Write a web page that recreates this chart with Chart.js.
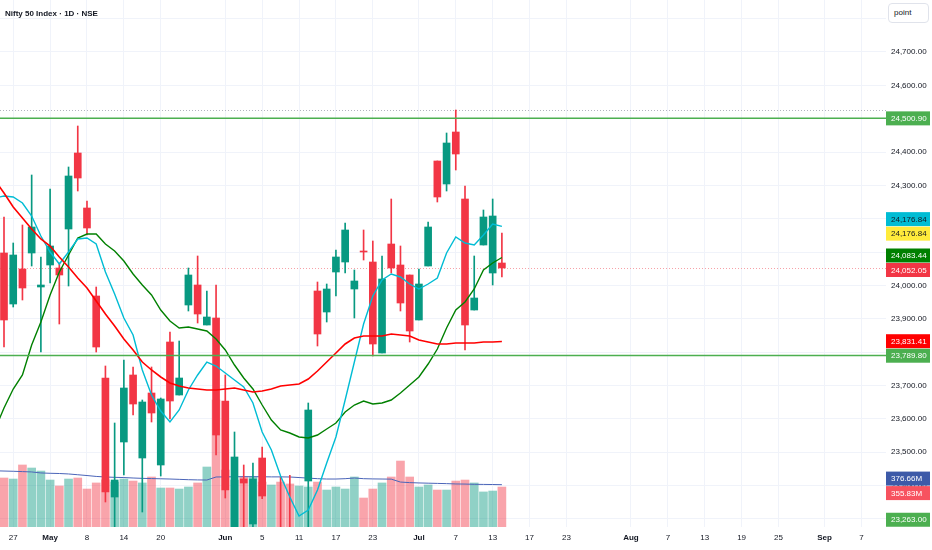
<!DOCTYPE html>
<html>
<head>
<meta charset="utf-8">
<script src="https://cdn.jsdelivr.net/npm/chart.js@4.4.1/dist/chart.umd.min.js"></script>
<style>
body{margin:0;background:#fff;}
#wrap{position:relative;width:932px;height:550px;overflow:hidden;}
#title{position:absolute;left:5px;top:9px;font:600 8px "Liberation Sans",Arial,sans-serif;color:#131722;}
#unit{position:absolute;left:888px;top:3px;width:34px;height:18px;border:1px solid #e0e3eb;border-radius:4px;
  font:8px "Liberation Sans",Arial,sans-serif;color:#131722;line-height:18px;padding-left:5px;background:#fff;}
</style>
</head>
<body>
<div id="wrap">
  <canvas id="chart" width="932" height="550"></canvas>
  <div id="title">Nifty 50 Index · 1D · NSE</div>
  <div id="unit">point</div>
</div>
<script>
// daily candles, bar index 0..54
const opens  = [24097,23944,24049,24097,23995,24061,24052,24169,24397,24232,23968,23722,23365,23530,23731,23482,23677,23461,23830,23671,
                23941,24001,23881,23902,23653,23240,23419,23284,23482,23100,23190,23150,23080,23413,23983,23920,24040,24070,23989,24103,
                24070,23797,24124,24061,24031,23896,24058,24373,24304,24460,24259,23926,24121,24037,24067];
const highs  = [24205,24127,24181,24331,24085,24289,24067,24355,24478,24253,23995,23758,23587,23776,23755,23656,23755,23662,23860,23833,
                24052,24088,23983,24001,23731,23560,23461,23467,23515,23240,23425,23430,23250,23647,24010,24004,24106,24187,24046,24166,
                24133,24088,24259,24118,24031,24049,24190,24373,24457,24526,24298,24088,24226,24259,24157];
const lows   = [23815,23935,23956,24058,23800,24007,23884,23998,24283,24151,23800,23350,23250,23431,23611,23320,23590,23428,23599,23671,
                23923,23887,23881,23491,23362,23200,23250,23270,23360,23050,23030,23000,23020,23230,23818,23890,23968,24037,23902,24076,
                23788,23797,24037,23923,23830,23896,24058,24250,24283,24346,23806,23926,24121,24001,24025];
const closes = [23896,24091,23992,24175,24001,24118,24031,24328,24322,24172,23815,23380,23416,23692,23644,23650,23617,23659,23653,23722,
                24031,23914,23905,23551,23386,23485,23407,23419,23368,23200,23080,23060,23200,23626,23854,23989,24085,24166,24013,24100,
                23824,24019,24052,23947,23863,24004,24175,24265,24427,24394,23881,23962,24205,24208,24052.05];
// volume in millions
const volumes = [436,427,552,525,498,418,365,427,436,338,392,420,400,427,409,392,445,347,347,338,
                 356,392,534,1130,507,418,445,445,400,374,400,383,365,356,400,329,356,338,445,258,
                 338,392,445,587,445,356,374,329,329,409,418,392,312,320,355.83];
// moving averages, bar index -1..54
const maRed   = [24316,24277,24235,24202,24169,24139,24118,24085,24055,24022,23992,23953,23914,23878,23839,23806,23770,23746,23725,23707,
                 23698,23692,23689,23686,23686,23689,23692,23686,23680,23683,23689,23698,23701,23704,23719,23743,23770,23797,23824,23842,
                 23848,23848,23848,23854,23851,23848,23836,23830,23824,23824,23827,23827,23827,23830,23830,23831.41];
const maCyan  = [24262,24268,24265,24247,24208,24148,24100,24064,24100,24139,24142,24124,24040,23974,23902,23851,23746,23671,23623,23590,
                 23626,23686,23731,23770,23758,23737,23716,23695,23647,23560,23506,23428,23365,23308,23326,23386,23467,23545,23656,23770,
                 23884,23968,24016,24034,24025,24004,23989,24004,24022,24097,24145,24127,24121,24151,24184,24176.84];
const maGreen = [23566,23632,23689,23731,23821,23890,23971,24040,24091,24142,24154,24154,24124,24103,24073,24034,24001,23971,23926,23893,
                 23872,23875,23869,23863,23839,23806,23761,23722,23689,23641,23596,23566,23557,23545,23542,23551,23569,23587,23620,23641,
                 23653,23644,23647,23656,23677,23701,23725,23764,23809,23872,23926,23950,23989,24046,24067,24083.44];
const volMA   = [500,498,496,493,490,481,478,476,472,465,458,450,445,442,440,436,433,431,429,427,
                 424,421,419,418,445,446,447,448,448,447,446,446,445,440,435,430,427,427,430,436,
                 430,428,427,426,400,395,392,390,388,386,383,382,380,379,378,376.66];
// horizontal levels
const levels = [24500.90, 23789.80, 23263.00];
// axis ticks
const priceTicks = [23300,23400,23500,23600,23700,23800,23900,24000,24100,24200,24300,24400,24500,24600,24700,24800];
const timeTickIdx  = [1,5,9,13,17,24,28,32,36,40,45,49,53,57,61,68,72,76,80,84,89,93];
const timeTickText = ['27','May','8','14','20','Jun','5','11','17','23','Jul','7','13','17','23','Aug','7','13','19','25','Sep','7'];
const monthNames = ['May','Jun','Jul','Aug','Sep'];

const FONT = '"Liberation Sans", Arial, sans-serif';
const UP = '#089981', DOWN = '#f23645';
const isUp = closes.map((c, i) => c >= opens[i]);
const candleColors = isUp.map(u => u ? UP : DOWN);
const volColors = isUp.map(u => u ? 'rgba(8,153,129,0.45)' : 'rgba(242,54,69,0.45)');

const fmtPrice = v => v.toLocaleString('en-US', {minimumFractionDigits: 2, maximumFractionDigits: 2});
const lineFrom = arr => arr.map((v, k) => ({x: k - 1, y: v}));

const overlay = {
  id: 'overlay',
  beforeDatasetsDraw(chart) {
    const {ctx, chartArea: a, scales: {y}} = chart;
    ctx.save();
    ctx.lineWidth = 1;
    // dotted line at the highest high
    ctx.setLineDash([1, 2]);
    ctx.strokeStyle = '#b2b5be';
    let py = Math.round(y.getPixelForValue(Math.max(...highs))) + 0.5;
    ctx.beginPath(); ctx.moveTo(a.left, py); ctx.lineTo(a.right, py); ctx.stroke();
    // dotted line at last close
    ctx.strokeStyle = '#f7a1a8';
    py = Math.round(y.getPixelForValue(closes[closes.length - 1])) + 0.5;
    ctx.beginPath(); ctx.moveTo(a.left, py); ctx.lineTo(a.right, py); ctx.stroke();
    ctx.restore();
  },
  afterDatasetsDraw(chart) {
    const {ctx, chartArea: a, scales: {y}} = chart;
    ctx.save();
    ctx.beginPath(); ctx.rect(a.left, a.top, a.right - a.left, a.bottom - a.top); ctx.clip();
    ctx.strokeStyle = '#4caf50';
    ctx.lineWidth = 1.5;
    levels.forEach(v => {
      const py = y.getPixelForValue(v);
      ctx.beginPath(); ctx.moveTo(a.left, py); ctx.lineTo(a.right, py); ctx.stroke();
    });
    ctx.restore();
  },
  afterDraw(chart) {
    const {ctx, chartArea: a, scales: {y, yv}} = chart;
    const last = arr => arr[arr.length - 1];
    const H = 14.5;
    const items = [
      {py: y.getPixelForValue(levels[0]), text: fmtPrice(levels[0]), bg: '#4caf50', fg: '#fff'},
      {py: y.getPixelForValue(last(maCyan)), text: fmtPrice(last(maCyan)), bg: '#00bcd4', fg: '#131722'},
      {py: y.getPixelForValue(last(maCyan)), text: fmtPrice(last(maCyan)), bg: '#ffeb3b', fg: '#131722'},
      {py: y.getPixelForValue(last(maGreen)), text: fmtPrice(last(maGreen)), bg: '#008000', fg: '#fff'},
      {py: y.getPixelForValue(last(closes)), text: fmtPrice(last(closes)), bg: '#f23645', fg: '#fff'},
      {py: y.getPixelForValue(last(maRed)), text: fmtPrice(last(maRed)), bg: '#ff0000', fg: '#fff'},
      {py: y.getPixelForValue(levels[1]), text: fmtPrice(levels[1]), bg: '#4caf50', fg: '#fff'},
      {py: yv.getPixelForValue(last(volMA)), text: last(volMA).toFixed(2) + 'M', bg: '#3d5aa8', fg: '#fff'},
      {py: yv.getPixelForValue(last(volumes)), text: last(volumes).toFixed(2) + 'M', bg: '#f7525f', fg: '#fff'},
      {py: y.getPixelForValue(levels[2]), text: fmtPrice(levels[2]), bg: '#4caf50', fg: '#fff'}
    ];
    items.forEach(it => { it.py = Math.min(Math.max(it.py, a.top + H / 2), a.bottom - H / 2); });
    // push overlapping labels apart, centred on their wanted positions
    const groups = [];
    items.forEach(it => {
      groups.push({list: [it], top: it.py});
      while (groups.length > 1) {
        const g = groups[groups.length - 1], p = groups[groups.length - 2];
        if (p.top + p.list.length * H > g.top) {
          p.list = p.list.concat(g.list);
          const mean = p.list.reduce((s, i) => s + i.py, 0) / p.list.length;
          p.top = mean - (p.list.length - 1) * H / 2;
          groups.pop();
        } else break;
      }
    });
    ctx.save();
    ctx.font = '8px ' + FONT;
    ctx.textBaseline = 'middle';
    groups.forEach(g => g.list.forEach((it, k) => {
      const cy = g.top + k * H;
      ctx.fillStyle = it.bg;
      ctx.fillRect(a.right, cy - 7, 44, 14);
      ctx.fillStyle = it.fg;
      ctx.fillText(it.text, a.right + 5, cy + 0.5);
    }));
    ctx.restore();
  }
};

new Chart(document.getElementById('chart'), {
  data: {
    datasets: [
      {type: 'line', data: lineFrom(maRed), yAxisID: 'y', borderColor: '#ff0000', borderWidth: 1.6, pointRadius: 0, order: 0},
      {type: 'line', data: lineFrom(maCyan), yAxisID: 'y', borderColor: '#00bcd4', borderWidth: 1.4, pointRadius: 0, order: 0},
      {type: 'line', data: lineFrom(maGreen), yAxisID: 'y', borderColor: '#008000', borderWidth: 1.4, pointRadius: 0, order: 0},
      {type: 'bar', data: opens.map((o, i) => ({x: i, y: [o, closes[i]]})), yAxisID: 'y',
       backgroundColor: candleColors, barThickness: 7, grouped: false, order: 1},
      {type: 'bar', data: lows.map((l, i) => ({x: i, y: [l, highs[i]]})), yAxisID: 'y',
       backgroundColor: candleColors, barThickness: 1, grouped: false, order: 2},
      {type: 'line', data: lineFrom(volMA), yAxisID: 'yv', borderColor: '#4a64b8', borderWidth: 1, pointRadius: 0, order: 4},
      {type: 'bar', data: volumes.map((v, i) => ({x: i, y: v})), yAxisID: 'yv',
       backgroundColor: volColors, barThickness: 8, grouped: false, order: 5}
    ]
  },
  options: {
    responsive: false,
    animation: false,
    layout: {padding: 0},
    plugins: {legend: {display: false}, tooltip: {enabled: false}},
    scales: {
      x: {
        type: 'linear', min: -0.434, max: 95.66, offset: false,
        afterBuildTicks: s => { s.ticks = timeTickIdx.map(v => ({value: v})); },
        afterFit: s => { s.height = 23; s.paddingLeft = 0; s.paddingRight = 0; },
        grid: {color: '#f0f3fa', drawTicks: false, offset: false},
        border: {display: false},
        ticks: {
          autoSkip: false, maxRotation: 0, padding: 6, color: '#131722',
          font: c => {
            const t = c.tick ? timeTickText[timeTickIdx.indexOf(c.tick.value)] : '';
            return {family: FONT, size: 8, weight: monthNames.includes(t) ? 'bold' : 'normal'};
          },
          callback: v => timeTickText[timeTickIdx.indexOf(v)]
        }
      },
      y: {
        position: 'right', min: 23275, max: 24856,
        afterBuildTicks: s => { s.ticks = priceTicks.map(v => ({value: v})); },
        afterFit: s => { s.width = 46; s.paddingTop = 0; s.paddingBottom = 0; },
        grid: {color: '#f0f3fa', drawTicks: false},
        border: {display: false},
        ticks: {autoSkip: false, padding: 5, color: '#131722', font: {family: FONT, size: 8},
                callback: v => fmtPrice(v)}
      },
      yv: {display: false, min: 0, max: 4690}
    }
  },
  plugins: [overlay]
});
</script>
</body>
</html>
